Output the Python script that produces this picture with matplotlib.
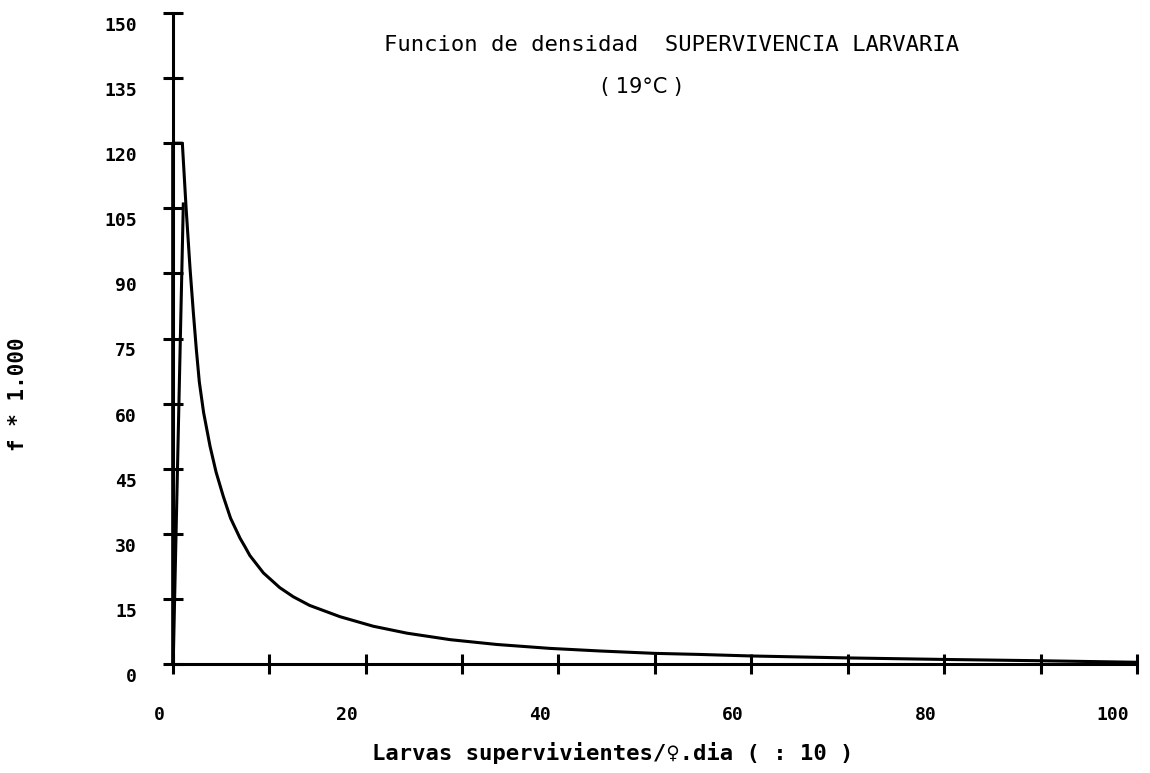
import matplotlib
matplotlib.use("Agg")
import matplotlib.pyplot as plt
from matplotlib.transforms import ScaledTranslation

# Density curve (x = larvae/female.day / 10, y = f * 1000)
curve_x = [0.0, 0.0, 1.0, 1.38, 1.79, 2.14, 2.45, 2.76, 3.2, 3.87, 4.5, 5.25,
           6.0, 6.98, 7.5, 8.0, 9.4, 11.1, 12.5, 14.2, 17.35, 20.8, 24.3,
           28.8, 33.6, 39.1, 44.3, 50.0, 54.7, 60.0, 70.0, 80.0, 90.0, 100.0]
curve_y = [0.0, 120.0, 120.0, 105.4, 91.4, 81.0, 72.5, 65.0, 58.0, 50.2, 44.2,
           38.6, 33.6, 29.0, 27.0, 25.0, 21.0, 17.6, 15.5, 13.5, 10.9, 8.7,
           7.1, 5.6, 4.5, 3.6, 3.0, 2.45, 2.2, 1.85, 1.4, 1.05, 0.75, 0.4]

# second stroke of the plotter pen near the peak
rise_x = [0.05, 1.1]
rise_y = [0.0, 106.0]

x_ticks = [0, 20, 40, 60, 80, 100]
x_minor = [10, 30, 50, 70, 90]
y_ticks = [0, 15, 30, 45, 60, 75, 90, 105, 120, 135, 150]

title1 = "Funcion de densidad  SUPERVIVENCIA LARVARIA"
title2 = "( 19°C )"
xlabel = "Larvas supervivientes/♀.dia ( : 10 )"
ylabel = "f * 1.000"

W, H = 1150, 773
fig = plt.figure(figsize=(W / 100, H / 100), dpi=100)
ax = fig.add_axes([172.7 / W, 1 - 664 / H, (1137 - 172.7) / W, (664 - 13) / H])

lw = 2.2
ax.plot(curve_x, curve_y, color="black", lw=lw, clip_on=False,
        solid_joinstyle="round")
ax.plot(rise_x, rise_y, color="black", lw=lw, clip_on=False)

ax.set_xlim(0, 100)
ax.set_ylim(0, 150)
for s in ["top", "right"]:
    ax.spines[s].set_visible(False)
for s in ["left", "bottom"]:
    ax.spines[s].set_linewidth(lw)

ax.set_xticks(x_ticks)
ax.set_xticks(x_minor, minor=True)
ax.set_yticks(y_ticks)
ax.tick_params(axis="both", which="both", direction="inout", length=14.4,
               width=lw, color="black")
ax.tick_params(axis="x", which="major", pad=23)
ax.tick_params(axis="y", which="major", pad=18.5)

mono = {"family": "DejaVu Sans Mono", "weight": "bold", "size": 13}
ax.set_xticklabels([str(v) for v in x_ticks], fontdict=mono, ha="right")
ax.set_yticklabels([str(v) for v in y_ticks], fontdict=mono)

for lab in ax.get_xticklabels():
    lab.set_transform(lab.get_transform() + ScaledTranslation(-8 / 100, 0, fig.dpi_scale_trans))
for lab in ax.get_yticklabels():
    lab.set_transform(lab.get_transform() + ScaledTranslation(0, -11 / 100, fig.dpi_scale_trans))

fig.text(672 / W, 1 - 45 / H, title1, ha="center", va="center",
         family="DejaVu Sans Mono", size=16)
fig.text(642 / W, 1 - 87 / H, title2, ha="center", va="center",
         family="DejaVu Sans", size=15)
fig.text(613 / W, 1 - 753 / H, xlabel, ha="center", va="center",
         family="DejaVu Sans Mono", weight="bold", size=16)
fig.text(18 / W, 1 - 394 / H, ylabel, ha="center", va="center", rotation=90,
         family="DejaVu Sans Mono", weight="bold", size=15)

fig.savefig("out.png", dpi=100)
